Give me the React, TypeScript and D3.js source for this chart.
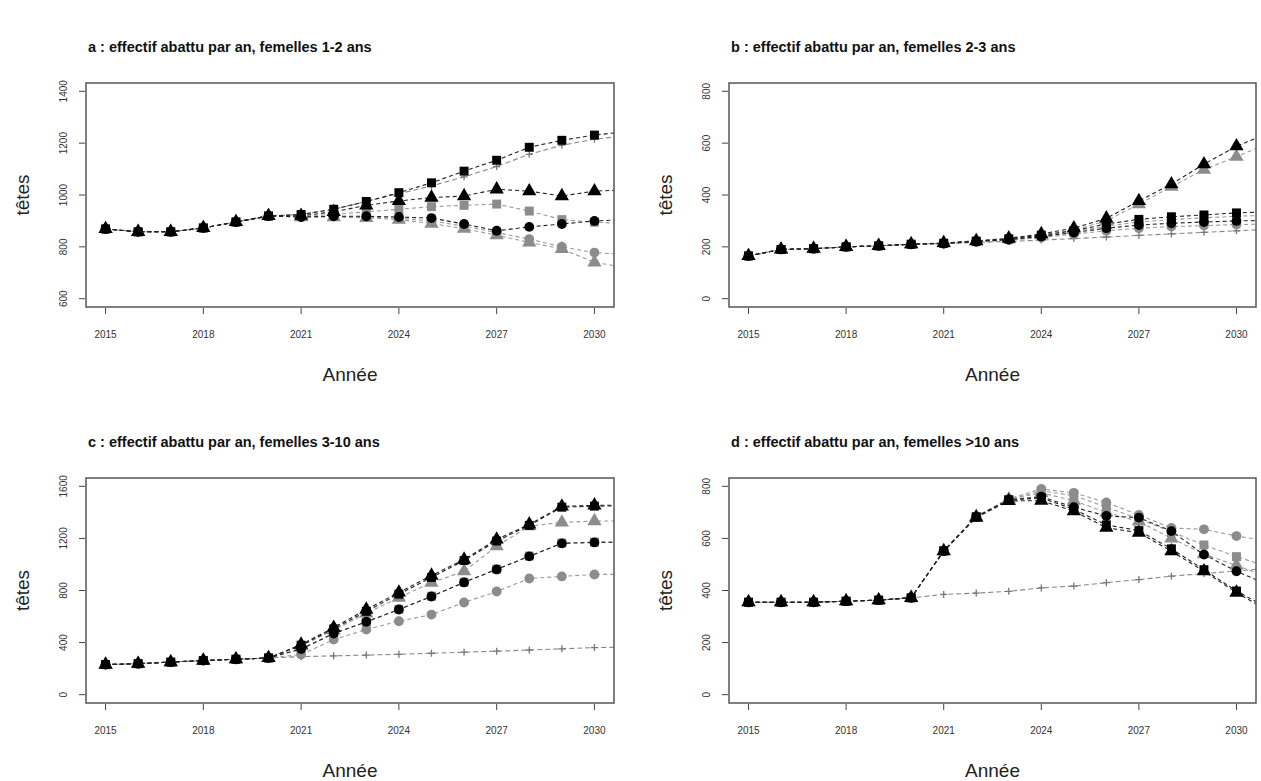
import React from 'react';
import * as d3 from 'd3';

// ---------- data ----------
const years = [2015, 2016, 2017, 2018, 2019, 2020, 2021, 2022, 2023, 2024, 2025, 2026, 2027, 2028, 2029, 2030, 2031];
const xTicks = [2015, 2018, 2021, 2024, 2027, 2030];

// panel a : femelles 1-2 ans
const aCommon = [869, 858, 858, 873, 896, 919];
const aBase = [...aCommon, 925, 945, 975, 1005, 1035, 1070, 1110, 1157, 1192, 1215, 1230];
const aSqBlack = [...aCommon, 925, 945, 975, 1009, 1047, 1092, 1134, 1184, 1211, 1231, 1245];
const aTriBlack = [...aCommon, 920, 935, 960, 977, 990, 996, 1022, 1015, 996, 1015, 1020];
const aCirBlack = [...aCommon, 915, 918, 918, 915, 911, 888, 862, 877, 888, 900, 905];
const aSqGray = [...aCommon, 918, 925, 935, 945, 955, 960, 965, 938, 905, 895, 890];
const aCirGray = [...aCommon, 915, 918, 915, 910, 900, 880, 855, 830, 800, 778, 770];
const aTriGray = [...aCommon, 915, 915, 912, 905, 890, 870, 845, 817, 792, 740, 720];
const aTicks = [600, 800, 1000, 1200, 1400];

// panel b : femelles 2-3 ans
const bCommon = [165, 190, 193, 200, 204, 210];
const bBase = [...bCommon, 213, 217, 221, 226, 232, 238, 244, 250, 256, 262, 268];
const bTriBlack = [...bCommon, 215, 223, 233, 250, 272, 310, 377, 442, 519, 588, 640];
const bTriGray = [...bCommon, 214, 221, 230, 246, 265, 300, 365, 432, 498, 548, 600];
const bSqBlack = [...bCommon, 214, 222, 231, 245, 262, 288, 306, 316, 323, 331, 335];
const bSqGray = [...bCommon, 213, 221, 229, 242, 258, 280, 296, 305, 312, 318, 322];
const bCirBlack = [...bCommon, 213, 220, 228, 240, 255, 272, 284, 291, 296, 300, 302];
const bCirGray = [...bCommon, 212, 219, 226, 236, 249, 262, 272, 278, 282, 286, 288];
const bTicks = [0, 200, 400, 600, 800];

// panel c : femelles 3-10 ans
const cCommon = [231, 238, 250, 262, 272, 282];
const cBase = [...cCommon, 292, 298, 304, 310, 318, 326, 334, 343, 352, 362, 365];
const cTriBlack = [...cCommon, 385, 515, 654, 785, 915, 1038, 1192, 1308, 1446, 1454, 1455];
const cSqBlack = [...cCommon, 380, 505, 640, 772, 900, 1030, 1180, 1300, 1440, 1448, 1450];
const cTriGray = [...cCommon, 375, 495, 625, 745, 860, 948, 1140, 1295, 1323, 1333, 1335];
const cCirBlack = [...cCommon, 350, 470, 560, 654, 754, 862, 962, 1062, 1162, 1169, 1172];
const cSqGray = [...cCommon, 352, 472, 556, 656, 756, 864, 964, 1064, 1164, 1171, 1173];
const cCirGray = [...cCommon, 308, 423, 500, 564, 615, 708, 792, 892, 908, 923, 925];
const cTicks = [0, 400, 800, 1200, 1600];

// panel d : femelles >10 ans
const dCommon = [355, 355, 355, 359, 363, 372];
const dBase = [...dCommon, 385, 390, 397, 410, 417, 430, 442, 455, 465, 475, 485];
const dTriBlack = [...dCommon, 551, 680, 744, 745, 705, 641, 622, 551, 474, 392, 320];
const dSqBlack = [...dCommon, 553, 683, 748, 755, 712, 652, 630, 560, 480, 398, 330];
const dCirBlack = [...dCommon, 551, 683, 748, 760, 720, 686, 680, 628, 538, 474, 420];
const dTriGray = [...dCommon, 552, 684, 750, 775, 745, 700, 665, 600, 540, 496, 450];
const dSqGray = [...dCommon, 551, 683, 749, 782, 765, 720, 675, 625, 575, 530, 490];
const dCirGray = [...dCommon, 551, 685, 752, 790, 775, 738, 690, 640, 635, 609, 590];
const dTicks = [0, 200, 400, 600, 800];

// ---------- styles ----------
type Shape = 'plus' | 'triangle' | 'square' | 'circle';
const BLACK = '#000';
const GRAY = '#8c8c8c';
const BASE = '#777';

function mk(values: number[], shape: Shape, tone: 'black' | 'gray' | 'base') {
  return { values, shape, tone };
}

const panels = [
  {
    id: 'a', title: 'a : effectif abattu par an, femelles 1-2 ans', ylim: [600, 1400], ticks: aTicks,
    left: 86, top: 83, width: 528, height: 224,
    series: [mk(aBase, 'plus', 'base'), mk(aCirGray, 'circle', 'gray'), mk(aSqGray, 'square', 'gray'), mk(aTriGray, 'triangle', 'gray'),
      mk(aCirBlack, 'circle', 'black'), mk(aSqBlack, 'square', 'black'), mk(aTriBlack, 'triangle', 'black')],
  },
  {
    id: 'b', title: 'b : effectif abattu par an, femelles 2-3 ans', ylim: [0, 800], ticks: bTicks,
    left: 729, top: 83, width: 527, height: 224,
    series: [mk(bBase, 'plus', 'base'), mk(bCirGray, 'circle', 'gray'), mk(bSqGray, 'square', 'gray'), mk(bTriGray, 'triangle', 'gray'),
      mk(bCirBlack, 'circle', 'black'), mk(bSqBlack, 'square', 'black'), mk(bTriBlack, 'triangle', 'black')],
  },
  {
    id: 'c', title: 'c : effectif abattu par an, femelles 3-10 ans', ylim: [0, 1600], ticks: cTicks,
    left: 86, top: 478, width: 528, height: 225,
    series: [mk(cBase, 'plus', 'base'), mk(cCirGray, 'circle', 'gray'), mk(cSqGray, 'square', 'gray'), mk(cTriGray, 'triangle', 'gray'),
      mk(cCirBlack, 'circle', 'black'), mk(cSqBlack, 'square', 'black'), mk(cTriBlack, 'triangle', 'black')],
  },
  {
    id: 'd', title: 'd : effectif abattu par an, femelles >10 ans', ylim: [0, 800], ticks: dTicks,
    left: 729, top: 478, width: 527, height: 225,
    series: [mk(dBase, 'plus', 'base'), mk(dCirGray, 'circle', 'gray'), mk(dSqGray, 'square', 'gray'), mk(dTriGray, 'triangle', 'gray'),
      mk(dCirBlack, 'circle', 'black'), mk(dSqBlack, 'square', 'black'), mk(dTriBlack, 'triangle', 'black')],
  },
];

const symbolGen: Record<Shape, string> = {
  plus: 'M-3.5,0H3.5M0,-3.5V3.5',
  triangle: d3.symbol().type(d3.symbolTriangle).size(88)() as string,
  square: d3.symbol().type(d3.symbolSquare).size(80)() as string,
  circle: d3.symbol().type(d3.symbolCircle).size(76)() as string,
};

const FONT = "'Liberation Sans', Arial, sans-serif";

function Panel({ cfg }: { cfg: (typeof panels)[number] }) {
  const { id, title, ylim, ticks, left, top, width, height, series } = cfg;
  const x = d3.scaleLinear().domain([2014.4, 2030.6]).range([left, left + width]);
  const pad = (ylim[1] - ylim[0]) * 0.04;
  const y = d3.scaleLinear().domain([ylim[0] - pad, ylim[1] + pad]).range([top + height, top]);
  const line = d3.line<number>().x((_, i) => x(years[i])).y((v) => y(v));
  const clipId = `clip-${id}`;
  const bottom = top + height;
  return (
    <g fontFamily={FONT}>
      <defs>
        <clipPath id={clipId}>
          <rect x={left} y={top} width={width} height={height} />
        </clipPath>
      </defs>
      <text x={left + 2} y={top - 31} fontSize={14.5} fontWeight="bold" fill="#111">{title}</text>
      <g clipPath={`url(#${clipId})`}>
        {series.map((s, k) => (
          <path key={`l${k}`} d={line(s.values) || ''} fill="none"
            stroke={s.tone === 'black' ? '#222' : s.tone === 'gray' ? '#9a9a9a' : '#888'}
            strokeWidth={1.1} strokeDasharray={s.tone === 'base' ? '5,3' : '4,3'} />
        ))}
        {series.map((s, k) => (
          <g key={`m${k}`} fill={s.tone === 'black' ? BLACK : s.tone === 'gray' ? GRAY : 'none'}
            stroke={s.tone === 'base' ? BASE : 'none'} strokeWidth={1.3}>
            {s.values.map((v, i) => (
              <path key={i} transform={`translate(${x(years[i])},${y(v)})`} d={symbolGen[s.shape]} />
            ))}
          </g>
        ))}
      </g>
      <rect x={left} y={top} width={width} height={height} fill="none" stroke="#555" strokeWidth={1.5} />
      {ticks.map((t) => (
        <g key={`y${t}`}>
          <line x1={left - 1} x2={left - 7} y1={y(t)} y2={y(t)} stroke="#444" strokeWidth={1} />
          <text transform={`translate(${left - 19},${y(t)}) rotate(-90)`} textAnchor="middle" fontSize={10} fill="#333">{t}</text>
        </g>
      ))}
      {xTicks.map((t) => (
        <g key={`x${t}`}>
          <line x1={x(t)} x2={x(t)} y1={bottom + 1} y2={bottom + 7} stroke="#444" strokeWidth={1} />
          <text x={x(t)} y={bottom + 31} textAnchor="middle" fontSize={10} fill="#333">{t}</text>
        </g>
      ))}
      <text x={left + width / 2} y={bottom + 74} textAnchor="middle" fontSize={19} fill="#222">Année</text>
      <text transform={`translate(${left - 57},${top + height / 2}) rotate(-90)`} textAnchor="middle" fontSize={19} fill="#222">têtes</text>
    </g>
  );
}

export default function App() {
  return (
    <svg width={1261} height={781} style={{ position: 'absolute', left: 0, top: 0, background: '#fff' }}>
      <rect x={0} y={0} width={1261} height={781} fill="#fff" />
      {panels.map((p) => (
        <Panel key={p.id} cfg={p} />
      ))}
    </svg>
  );
}
